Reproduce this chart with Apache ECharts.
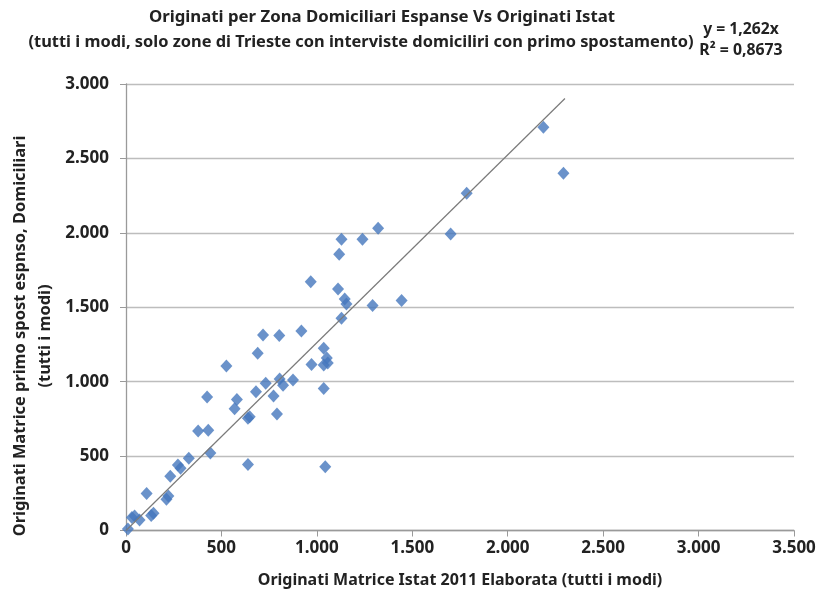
<!DOCTYPE html>
<html>
<head>
<meta charset="utf-8">
<script src="https://cdn.jsdelivr.net/npm/echarts@6/dist/echarts.min.js"></script>
<style>
html,body{margin:0;padding:0;background:#fff;}
#chart{width:819px;height:596px;}
</style>
</head>
<body>
<div id="chart"></div>
<script>
// Data
const istatX = [10,31,45,71,108,132,144,212,222,232,272,286,329,378,431,425,442,526,569,581,639,648,639,681,690,718,732,773,791,803,805,823,875,919,968,972,1036,1052,1036,1057,1036,1044,1111,1117,1129,1129,1146,1155,1239,1292,1321,1444,1701,1785,2187,2292];
const domicY = [10,87,97,71,249,101,116,210,232,364,440,418,485,669,673,897,521,1105,818,880,754,765,444,933,1191,1314,989,904,783,1311,1018,976,1011,1341,1672,1116,1224,1159,1112,1126,954,429,1623,1856,1957,1426,1556,1522,1957,1511,2031,1546,1992,2266,2710,2400];
const trendSlope = 1.262;
const trendXRange = [0, 2300];
const xTicks = [0,500,1000,1500,2000,2500,3000,3500];
const yTicks = [0,500,1000,1500,2000,2500,3000];
const titleLines = ['Originati per Zona Domiciliari Espanse Vs Originati Istat','(tutti i modi, solo zone di Trieste con interviste domiciliri con primo spostamento)'];
const eqLines = ['y = 1,262x','R² = 0,8673'];
const xName = 'Originati Matrice Istat 2011 Elaborata (tutti i modi)';
const yNameLines = ['Originati Matrice primo spost espnso, Domiciliari','(tutti i modi)'];

const FONT = "'Noto Sans', 'Open Sans', sans-serif";
const TXT = '#222222';
const fmt = v => String(v).replace(/\B(?=(\d{3})+(?!\d))/g, '.');

const points = istatX.map((x,i)=>[x, domicY[i]]);
const trend = trendXRange.map(x=>[x, x*trendSlope]);

const chart = echarts.init(document.getElementById('chart'), null, {renderer:'canvas'});
chart.setOption({
  animation:false,
  backgroundColor:'#fff',
  grid:{left:126, right:25, top:84, bottom:65.5, containLabel:false},
  xAxis:{
    type:'value', min:xTicks[0], max:xTicks[xTicks.length-1], interval:500,
    name:xName, nameLocation:'middle', nameGap:42,
    nameTextStyle:{fontFamily:FONT, fontWeight:'bold', fontSize:16, color:TXT},
    axisLine:{show:true, lineStyle:{color:'#9a9a9a', width:1.3}},
    axisTick:{show:true, length:6, lineStyle:{color:'#9a9a9a'}},
    axisLabel:{fontFamily:FONT, fontWeight:'bold', fontSize:17, color:TXT, margin:9, formatter:fmt},
    splitLine:{show:false}
  },
  yAxis:{
    type:'value', min:yTicks[0], max:yTicks[yTicks.length-1], interval:500,
    axisLine:{show:true, lineStyle:{color:'#9a9a9a', width:1.3}},
    axisTick:{show:true, length:6, lineStyle:{color:'#9a9a9a'}},
    axisLabel:{fontFamily:FONT, fontWeight:'bold', fontSize:17, color:TXT, margin:17, formatter:fmt},
    splitLine:{show:true, lineStyle:{color:'#bdbdbd', width:1.4}}
  },
  series:[
    {type:'scatter', data:points, symbol:'diamond', symbolSize:[12,13],
     itemStyle:{color:'#4577BD'}, z:2},
    {type:'line', data:trend, symbol:'none', lineStyle:{color:'#7a7a7a', width:1.2}, z:3, silent:true}
  ],
  graphic:[
    {type:'text', x:382, y:17, style:{text:titleLines[0], align:'center', verticalAlign:'middle', font:"bold 16.8px "+FONT, fill:TXT}},
    {type:'text', x:361, y:42, style:{text:titleLines[1], align:'center', verticalAlign:'middle', font:"bold 16.4px "+FONT, fill:TXT}},
    {type:'text', x:741, y:30, style:{text:eqLines[0], align:'center', verticalAlign:'middle', font:"bold 15.7px "+FONT, fill:TXT}},
    {type:'text', x:741, y:50, style:{text:eqLines[1], align:'center', verticalAlign:'middle', font:"bold 15.8px "+FONT, fill:TXT}},
    {type:'text', x:20, y:336, rotation:Math.PI/2, style:{text:yNameLines[0], align:'center', verticalAlign:'middle', font:"bold 16.4px "+FONT, fill:TXT}},
    {type:'text', x:45, y:336, rotation:Math.PI/2, style:{text:yNameLines[1], align:'center', verticalAlign:'middle', font:"bold 16.4px "+FONT, fill:TXT}}
  ]
});
</script>
</body>
</html>
